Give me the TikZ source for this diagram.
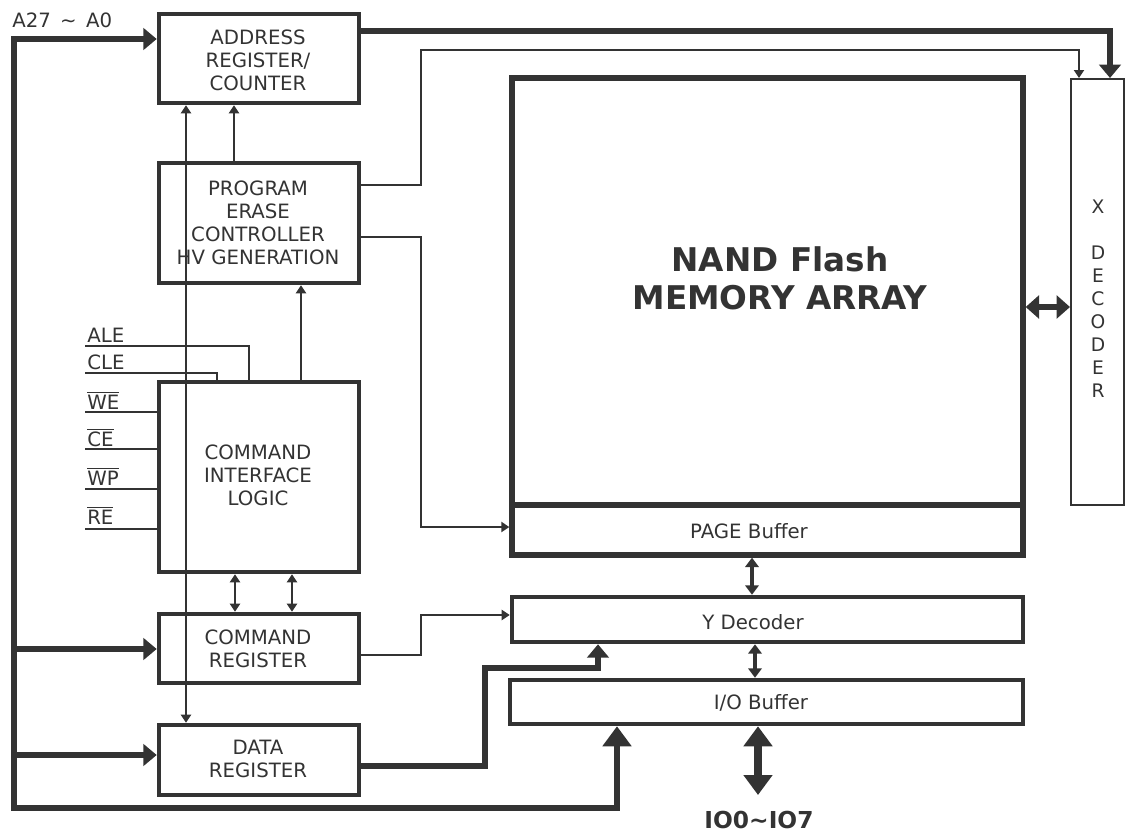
\documentclass[tikz,border=0pt]{standalone}
\usepackage{fontspec}
\setmainfont{DejaVu Sans}
\usetikzlibrary{arrows.meta,fit,calc}
\definecolor{ink}{RGB}{51,51,51}
\begin{document}
\begin{tikzpicture}[x=0.75pt,y=-0.75pt,
  box/.style={draw=ink, line width=3.4pt, inner sep=0pt},
  txt/.style={inner sep=0pt, align=center, text=ink, font=\fontsize{14.8}{17.25}\selectfont},
  sig/.style={inner sep=0pt, anchor=base west, text=ink, font=\fontsize{14.8}{17.25}\selectfont},
  thin/.style={draw=ink, line width=1.8pt},
  mid/.style={draw=ink, line width=2.3pt},
  bus/.style={draw=ink, line width=5pt},
  sa/.style={-{Triangle[length=6pt,width=7.5pt]}},
  sda/.style={{Triangle[length=6pt,width=7.5pt]}-{Triangle[length=6pt,width=7.5pt]}},
  mda/.style={{Triangle[length=7pt,width=10pt]}-{Triangle[length=7pt,width=10pt]}},
  ba/.style={-{Triangle[length=10pt,width=16pt]}},
  bda/.style={{Triangle[length=10pt,width=17pt]}-{Triangle[length=10pt,width=17pt]}},
  hba/.style={-{Triangle[length=15pt,width=21pt]}},
  hbda/.style={{Triangle[length=15pt,width=21pt]}-{Triangle[length=15pt,width=21pt]}},
]
\useasboundingbox (0,0) rectangle (1125,833);

% left column boxes
\node[box, fit={(159,14)(359,103)}] (addr) {};
\node[txt] (addrtxt) at (258,60) {ADDRESS\\REGISTER/\\COUNTER};
\node[box, fit={(159,163)(359,283)}] (prog) {};
\node[txt] (progtxt) at (258,222.5) {PROGRAM\\ERASE\\CONTROLLER\\HV GENERATION};
\node[box, fit={(159,382)(359,572)}] (cmdif) {};
\node[txt] (cmdiftxt) at (258,475) {COMMAND\\INTERFACE\\LOGIC};
\node[box, fit={(159,614)(359,683)}] (cmdreg) {};
\node[txt] (cmdregtxt) at (258,648.5) {COMMAND\\REGISTER};
\node[box, fit={(159,725)(359,795)}] (datareg) {};
\node[txt] (dataregtxt) at (258,758.5) {DATA\\REGISTER};

% right column boxes
\node[box, line width=4pt, fit={(512,78)(1023,505)}] (mem) {};
\node[txt, font=\fontsize{24.5}{28.5}\selectfont\bfseries] (title) at (780,278) {NAND Flash\\MEMORY ARRAY};
\node[box, line width=4pt, fit={(512,505)(1023,555)}] (page) {};
\node[txt] (pagetxt) at (749,531) {PAGE Buffer};
\node[box, fit={(512,597)(1023,642)}] (ydec) {};
\node[txt] (ydectxt) at (753,622) {Y Decoder};
\node[box, fit={(510,680)(1023,724)}] (io) {};
\node[txt] (iotxt) at (761,703) {I/O Buffer};
\node[box, line width=1.5pt, fit={(1071,79)(1124,505)}] (xdec) {};
\node[txt, font=\fontsize{14}{17.25}\selectfont] (xdectxt) at (1098,299) {X\\[17.25pt]D\\E\\C\\O\\D\\E\\R};

% labels
\node[sig] (alab) at (12,27) {A27\hspace{7pt}\textasciitilde\hspace{7pt}A0};
\node[sig] (ale) at (87,342) {ALE};
\node[sig] (cle) at (87,369) {CLE};
\node[sig] (we) at (87,409) {$\overline{\hbox{WE}}$};
\node[sig] (ce) at (87,446) {$\overline{\hbox{CE}}$};
\node[sig] (wp) at (87,485) {$\overline{\hbox{WP}}$};
\node[sig] (re) at (87,524) {$\overline{\hbox{RE}}$};
\node[inner sep=0pt, text=ink, font=\fontsize{17.5}{20}\selectfont\bfseries] (iolab) at (759,820) {IO0\textasciitilde{}IO7};

% address bus
\coordinate (bt) at (14,39);
\coordinate (bc) at (14,649);
\coordinate (bd) at (14,755);
\coordinate (bb) at (14,808);
\coordinate (iobus) at (617,808);
\draw[bus, ba, line join=miter] (bb) -- (bt) -- (addr.west |- bt);
\draw[bus, ba] (bc) -- (cmdreg.west |- bc);
\draw[bus, ba] (bd) -- (datareg.west |- bd);
\draw[bus, hba, line join=miter] (bd) -- (bb) -- (iobus) -- (io.south -| iobus);

% address register to X decoder
\coordinate (xa) at (1110,31);
\draw[bus, ba, line join=miter] (addr.east |- xa) -- (xa) -- (xdec.north -| xa);

% program/erase controller outputs
\coordinate (c1) at (421,50);
\coordinate (c2) at (1079,50);
\draw[thin, sa] (prog.east |- 0,185) -| (c1) -- (c2) -- (xdec.north -| c2);
\coordinate (c3) at (421,527);
\draw[thin, sa] (prog.east |- 0,237) -| (c3) -- (page.west |- c3);

% command register to Y decoder
\coordinate (c4) at (421,615);
\draw[thin, sa] (cmdreg.east |- 0,655) -| (c4) -- (ydec.west |- c4);

% data register to Y decoder
\coordinate (c5) at (485,668);
\coordinate (c6) at (598,668);
\draw[bus, ba, line join=miter] (datareg.east |- 0,766) -| (c5) -- (c6) -- (ydec.south -| c6);

% internal vertical connectors
\draw[thin, sda] (addr.south -| 186,0) -- (datareg.north -| 186,0);
\draw[thin, sa] (prog.north -| 234,0) -- (addr.south -| 234,0);
\draw[thin, sa] (cmdif.north -| 301,0) -- (prog.south -| 301,0);
\draw[thin, sda] (cmdif.south -| 235,0) -- (cmdreg.north -| 235,0);
\draw[thin, sda] (cmdif.south -| 292,0) -- (cmdreg.north -| 292,0);

% control signals
\coordinate (sale) at (85,346);
\coordinate (scle) at (85,373);
\coordinate (swe) at (85,412);
\coordinate (sce) at (85,449);
\coordinate (swp) at (85,489);
\coordinate (sre) at (85,529);
\draw[thin] (sale) -| (cmdif.north -| 249,0);
\draw[thin] (scle) -| (cmdif.north -| 217,0);
\draw[thin] (swe) -- (cmdif.west |- swe);
\draw[thin] (sce) -- (cmdif.west |- sce);
\draw[thin] (swp) -- (cmdif.west |- swp);
\draw[thin] (sre) -- (cmdif.west |- sre);

% right side data paths
\draw[bus, bda] (mem.east |- 0,307) -- (xdec.west |- 0,307);
\draw[mid, mda] (page.south -| 752,0) -- (ydec.north -| 752,0);
\draw[mid, mda] (ydec.south -| 755,0) -- (io.north -| 755,0);
\coordinate (ioout) at (758,795);
\draw[draw=ink, line width=6pt, hbda] (io.south -| ioout) -- (ioout);
\end{tikzpicture}
\end{document}
